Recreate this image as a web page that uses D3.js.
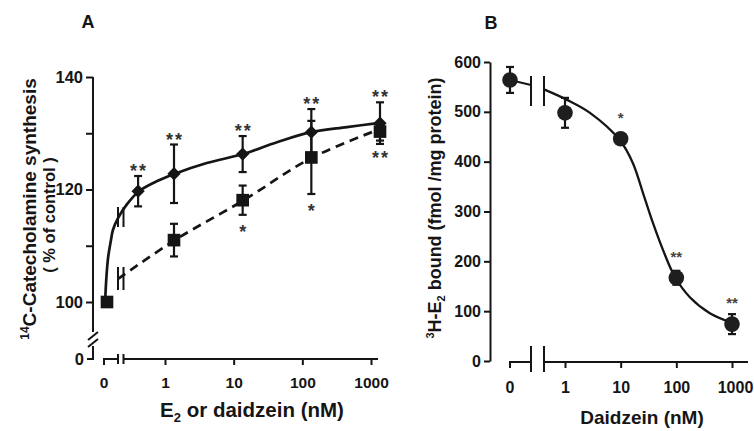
<!DOCTYPE html>
<html>
<head>
<meta charset="utf-8">
<script src="https://cdn.jsdelivr.net/npm/d3@7"></script>
<style>
body{margin:0;background:#fff;}
svg{display:block;font-family:"Liberation Sans",Arial,sans-serif;font-weight:bold;}
</style>
</head>
<body>
<svg id="chart" width="754" height="431"></svg>
<script>
// ---- data, panel A (% of control), 0 nM sits at the broken start of the axis
var diamondConc = [0.3, 1, 10, 100, 1000];
var diamondMean = [119.7, 122.8, 126.3, 130.2, 131.8];
var diamondErr = [2.7, 5.2, 3.2, 4.1, 3.7];
var diamondStars = ["**", "**", "**", "**", "**"];

var squareConc = [0, 1, 10, 100, 1000];
var squareMean = [100, 111.0, 118.1, 125.7, 130.3];
var squareErr = [0, 2.9, 2.6, 6.5, 1.6];
var squareStars = ["", "", "*", "*", "**"];

// fitted curves [conc, value]
var solidCurveA = [[0.1,100.8],[0.102,103],[0.106,106],[0.11,108],[0.12,110.8],[0.129,112.8],[0.153,114.9],
	[0.207,117.4],[0.31,119.7],[0.57,121.5],[1.03,122.8],[3,124.7],[10.1,126.3],[31.6,128.4],[98,130.2],[330,131.1],[930,131.8]];
var dashedCurveA = [[0.153,104.1],[1.03,111.0],[10.4,118.1],[100,125.6],[930,130.6]];

var yTicksA = [100, 110, 120, 130, 140];
var xTicksA = [1, 10, 100, 1000];

// ---- data, panel B (fmol/mg protein)
var concB = [0, 1, 10, 100, 1000];
var boundMean = [564, 498, 446, 167, 74];
var boundErr = [26, 30, 10, 14, 20];
var boundStars = ["", "", "*", "**", "**"];
var preBreakB = [564, 554];
var curveB = [[0.44,544],[1.09,524],[2.81,498],[9.7,443],[16.6,397],[25.2,337],[38,277],[57.5,223],[94,169],
	[175,128],[400,96],[1040,76]];
var yTicksB = [0, 100, 200, 300, 400, 500, 600];
var xTicksB = [1, 10, 100, 1000];

var ink = "#151515";
var svg = d3.select("#chart");
svg.append("rect").attr("width", 754).attr("height", 431).attr("fill", "#fff");

function styleAxis(g, size){
	g.attr("font-family", null).attr("font-size", size);
	g.selectAll("line").attr("stroke", ink).attr("stroke-width", 2);
	g.selectAll("path").attr("stroke", ink).attr("stroke-width", 2);
	g.selectAll("text").attr("fill", ink);
}
function errorBars(g, xs, means, errs, xf, yf){
	var sel = g.selectAll(null).data(means.map(function(m, i){ return {x: xs[i], m: m, e: errs[i]}; })
		.filter(function(d){ return d.e > 0; }))
		.enter().append("g").attr("stroke", ink).attr("stroke-width", 2.2);
	sel.append("line").attr("x1", function(d){ return xf(d.x); }).attr("x2", function(d){ return xf(d.x); })
		.attr("y1", function(d){ return yf(d.m + d.e); }).attr("y2", function(d){ return yf(d.m - d.e); });
	[1, -1].forEach(function(s){
		sel.append("line").attr("x1", function(d){ return xf(d.x) - 4; }).attr("x2", function(d){ return xf(d.x) + 4; })
			.attr("y1", function(d){ return yf(d.m + s * d.e); }).attr("y2", function(d){ return yf(d.m + s * d.e); });
	});
}

// =================== Panel A
var yA = d3.scaleLinear().domain([100, 140]).range([302, 77]);
var xA = d3.scaleLog().domain([1, 1000]).range([165, 371]);
var axisXA = 93, baseYA = 359, zeroXA = 104;
var shiftA = 9; // the marks sit a bit right of the ticks in the original
function pxA(c){ return c === 0 ? zeroXA + 3 : xA(c) + shiftA; }

var gA = svg.append("g");
gA.append("text").attr("x", 88).attr("y", 28).attr("text-anchor", "middle").attr("font-size", 18).attr("fill", ink).text("A");

var yAxA = gA.append("g").attr("transform", "translate(" + axisXA + ",0)")
	.call(d3.axisLeft(yA).tickValues(yTicksA).tickFormat(function(d){ return d % 20 === 0 ? d : ""; })
		.tickSize(7).tickSizeOuter(0).tickPadding(3));
yAxA.select(".domain").remove();
styleAxis(yAxA, 16.5);
// axis line with the break down to 0
var axLines = gA.append("g").attr("stroke", ink).attr("stroke-width", 2).attr("fill", "none");
axLines.append("path").attr("d", "M" + axisXA + "," + yA(140) + "V" + (baseYA - 27));
axLines.append("path").attr("d", "M" + (axisXA - 5) + "," + (baseYA - 19) + "L" + (axisXA + 5) + "," + (baseYA - 27));
axLines.append("path").attr("d", "M" + (axisXA - 5) + "," + (baseYA - 12) + "L" + (axisXA + 5) + "," + (baseYA - 20));
axLines.append("path").attr("d", "M" + axisXA + "," + (baseYA - 13) + "V" + baseYA + "H" + (axisXA - 6));
gA.append("text").attr("x", axisXA - 9).attr("y", baseYA + 6).attr("text-anchor", "end").attr("font-size", 16.5).attr("fill", ink).text("0");

var xAxA = gA.append("g").attr("transform", "translate(0," + baseYA + ")")
	.call(d3.axisBottom(xA).tickValues(xTicksA).tickFormat(d3.format("d")).tickSize(6).tickSizeOuter(0).tickPadding(12));
xAxA.select(".domain").remove();
styleAxis(xAxA, 15.5);
axLines.append("path").attr("d", "M" + zeroXA + "," + (baseYA + 6) + "V" + baseYA + "H118");
axLines.append("path").attr("d", "M118," + (baseYA - 5) + "V" + (baseYA + 5) + "M123.5," + (baseYA - 5) + "V" + (baseYA + 5));
axLines.append("path").attr("d", "M123.5," + baseYA + "H" + (xA(1000) + 7));
gA.append("text").attr("x", zeroXA).attr("y", baseYA + 29).attr("text-anchor", "middle").attr("font-size", 15.5).attr("fill", ink).text("0");

// titles
var tA = gA.append("text").attr("transform", "translate(36,209) rotate(-90)").attr("text-anchor", "middle")
	.attr("font-size", 19).attr("fill", ink);
tA.append("tspan").attr("font-size", 12).attr("dy", -7).text("14");
tA.append("tspan").attr("dy", 7).text("C-Catecholamine synthesis");
gA.append("text").attr("transform", "translate(55,215) rotate(-90)").attr("text-anchor", "middle")
	.attr("font-size", 16.5).attr("fill", ink).text("( % of control )");
var xtA = gA.append("text").attr("x", 252).attr("y", 417).attr("text-anchor", "middle").attr("font-size", 20.5).attr("fill", ink);
xtA.append("tspan").text("E");
xtA.append("tspan").attr("font-size", 13).attr("dy", 5).text("2");
xtA.append("tspan").attr("dy", -5).text(" or daidzein (nM)");

// curves
var lineA = d3.line().x(function(d){ return pxA(d[0]); }).y(function(d){ return yA(d[1]); }).curve(d3.curveCatmullRom.alpha(0.5));
gA.append("path").attr("d", lineA(solidCurveA)).attr("fill", "none").attr("stroke", ink).attr("stroke-width", 2.7);
gA.append("path").attr("d", lineA(dashedCurveA)).attr("fill", "none").attr("stroke", ink).attr("stroke-width", 2.7)
	.attr("stroke-dasharray", "9,6");
// break marks on the curves
axLines.append("path").attr("d", "M118,207V227M123.5,207V227M118,267V290M123.5,267V290");

errorBars(gA, diamondConc, diamondMean, diamondErr, pxA, yA);
errorBars(gA, squareConc, squareMean, squareErr, pxA, yA);

gA.selectAll(".sq").data(squareConc).enter().append("path").attr("class", "sq")
	.attr("d", d3.symbol(d3.symbolSquare, 160))
	.attr("transform", function(d, i){ return "translate(" + pxA(d) + "," + yA(squareMean[i]) + ")"; })
	.attr("fill", ink);
gA.selectAll(".dm").data(diamondConc).enter().append("path").attr("class", "dm")
	.attr("d", d3.symbol(d3.symbolSquare, 88))
	.attr("transform", function(d, i){ return "translate(" + pxA(d) + "," + yA(diamondMean[i]) + ") rotate(45)"; })
	.attr("fill", ink);

gA.selectAll(".stUp").data(diamondConc).enter().append("text").attr("class", "stUp")
	.attr("x", function(d){ return pxA(d) + 1; })
	.attr("y", function(d, i){ return yA(diamondMean[i] + diamondErr[i]) + 1; })
	.attr("text-anchor", "middle").attr("font-size", 18).attr("letter-spacing", 2).attr("fill", "#333")
	.text(function(d, i){ return diamondStars[i]; });
gA.selectAll(".stDn").data(squareConc).enter().append("text").attr("class", "stDn")
	.attr("x", function(d){ return pxA(d) + 1; })
	.attr("y", function(d, i){ return yA(squareMean[i] - squareErr[i]) + 23; })
	.attr("text-anchor", "middle").attr("font-size", 18).attr("letter-spacing", 2).attr("fill", "#333")
	.text(function(d, i){ return squareStars[i]; });

// =================== Panel B
var yB = d3.scaleLinear().domain([0, 600]).range([361, 62]);
var xB = d3.scaleLog().domain([1, 1000]).range([565, 732]);
var axisXB = 490, baseYB = 362, zeroXB = 510;
function pxB(c){ return c === 0 ? zeroXB : xB(c); }

var gB = svg.append("g");
gB.append("text").attr("x", 491).attr("y", 29).attr("text-anchor", "middle").attr("font-size", 18).attr("fill", ink).text("B");

var yAxB = gB.append("g").attr("transform", "translate(" + axisXB + ",0)")
	.call(d3.axisLeft(yB).tickValues(yTicksB).tickSize(6).tickSizeOuter(0).tickPadding(3));
styleAxis(yAxB, 16);

var xAxB = gB.append("g").attr("transform", "translate(0," + baseYB + ")")
	.call(d3.axisBottom(xB).tickValues(xTicksB).tickFormat(d3.format("d")).tickSize(6).tickSizeOuter(0).tickPadding(14));
xAxB.select(".domain").remove();
styleAxis(xAxB, 16);
xAxB.selectAll(".tick text").attr("dx", function(d){ return d === 1000 ? 3 : 0; });
var bLines = gB.append("g").attr("stroke", ink).attr("stroke-width", 2).attr("fill", "none");
bLines.append("path").attr("d", "M" + zeroXB + "," + (baseYB + 6) + "V" + baseYB + "H531");
bLines.append("path").attr("d", "M531," + (baseYB - 16) + "V" + (baseYB + 10) + "M544," + (baseYB - 16) + "V" + (baseYB + 10));
bLines.append("path").attr("d", "M544," + baseYB + "H748");
gB.append("text").attr("x", zeroXB).attr("y", baseYB + 31).attr("text-anchor", "middle").attr("font-size", 16).attr("fill", ink).text("0");

var ytB = gB.append("text").attr("transform", "translate(441,208) rotate(-90)").attr("text-anchor", "middle")
	.attr("font-size", 18).attr("fill", ink);
ytB.append("tspan").attr("font-size", 11).attr("dy", -7).text("3");
ytB.append("tspan").attr("dy", 7).text("H-E");
ytB.append("tspan").attr("font-size", 11).attr("dy", 4).text("2");
ytB.append("tspan").attr("dy", -4).text(" bound (fmol /mg protein)");
gB.append("text").attr("x", 642).attr("y", 424).attr("text-anchor", "middle").attr("font-size", 19).attr("fill", ink)
	.text("Daidzein (nM)");

// fitted curve with the break
bLines.append("path").attr("d", "M" + pxB(0) + "," + yB(preBreakB[0]) + "L531," + yB(preBreakB[1]));
bLines.append("path").attr("d", "M531,76V106M544,76V106");
var lineB = d3.line().x(function(d){ return xB(d[0]); }).y(function(d){ return yB(d[1]); }).curve(d3.curveCatmullRom.alpha(0.5));
gB.append("path").attr("d", "M544," + yB(curveB[0][1]) + "L" + lineB(curveB).slice(1)).attr("fill", "none").attr("stroke", ink).attr("stroke-width", 2.3);

errorBars(gB, concB, boundMean, boundErr, pxB, yB);
gB.selectAll(".pt").data(concB).enter().append("circle").attr("class", "pt")
	.attr("cx", function(d){ return pxB(d); })
	.attr("cy", function(d, i){ return yB(boundMean[i]); })
	.attr("r", 7.8).attr("fill", "#1e1e1e");
gB.selectAll(".stB").data(concB).enter().append("text").attr("class", "stB")
	.attr("x", function(d){ return pxB(d); })
	.attr("y", function(d, i){ return yB(boundMean[i]) - 16; })
	.attr("text-anchor", "middle").attr("font-size", 15).attr("fill", "#444")
	.text(function(d, i){ return boundStars[i]; });
</script>
</body>
</html>
